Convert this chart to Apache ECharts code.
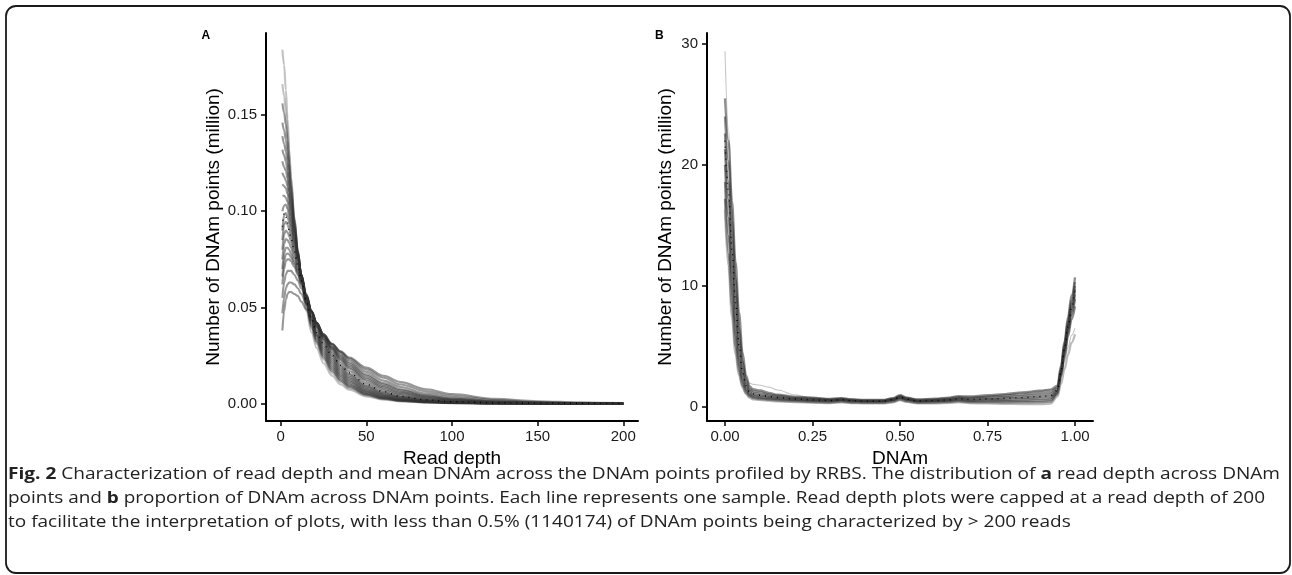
<!DOCTYPE html>
<html><head><meta charset="utf-8">
<script src="https://cdn.jsdelivr.net/npm/echarts@6/dist/echarts.min.js"></script>
<style>html,body{margin:0;padding:0;background:#fff}#c{width:1292px;height:575px}</style>
</head><body><div id="c"></div>
<script>
// ---------- Panel A: read depth distribution (million DNAm points) ----------
const depthX = [1,2,3,4,5,6,8,10,12,15,18,21,25,30,35,40,50,60,70,85,100,125,150,175,200];
const depthS01 = [0.184,0.176,0.163,0.148,0.132,0.118,0.096,0.078,0.064,0.048,0.037,0.029,0.021,0.0145,0.0100,0.0072,0.0038,0.0021,0.0012,0.0006,0.0003,0.0001,0.00005,0,0];
const depthS02 = [0.166,0.160,0.152,0.142,0.129,0.117,0.097,0.080,0.066,0.050,0.039,0.031,0.023,0.0160,0.0112,0.0080,0.0043,0.0024,0.0014,0.0007,0.0003,0.0001,0.00005,0,0];
const depthS03 = [0.146,0.142,0.137,0.131,0.121,0.111,0.094,0.079,0.067,0.052,0.041,0.033,0.025,0.0180,0.0128,0.0093,0.0050,0.0028,0.0016,0.0008,0.0004,0.00015,0.00005,0,0];
const depthS04 = [0.132,0.129,0.126,0.121,0.113,0.105,0.091,0.078,0.067,0.053,0.043,0.035,0.027,0.0200,0.0145,0.0107,0.0060,0.0034,0.0020,0.0010,0.0005,0.0002,0.0001,0,0];
const depthS05 = [0.120,0.118,0.116,0.113,0.107,0.100,0.088,0.077,0.067,0.054,0.044,0.036,0.029,0.0220,0.0162,0.0122,0.0070,0.0041,0.0024,0.0012,0.0006,0.0002,0.0001,0,0];
const depthS06 = [0.108,0.108,0.107,0.105,0.100,0.095,0.085,0.076,0.067,0.056,0.046,0.038,0.031,0.0240,0.0180,0.0138,0.0082,0.0049,0.0030,0.0015,0.0008,0.0003,0.0001,0.00005,0];
const depthS07 = [0.090,0.098,0.099,0.097,0.094,0.090,0.082,0.075,0.067,0.057,0.048,0.040,0.033,0.0260,0.0200,0.0155,0.0095,0.0059,0.0037,0.0019,0.0010,0.0004,0.0002,0.0001,0];
const depthS08 = [0.080,0.088,0.090,0.089,0.087,0.084,0.078,0.072,0.065,0.056,0.048,0.041,0.034,0.0280,0.0225,0.0182,0.0118,0.0077,0.0050,0.0027,0.0015,0.0006,0.0003,0.0001,0.00005];
const depthS09 = [0.070,0.078,0.081,0.081,0.080,0.078,0.074,0.069,0.063,0.055,0.048,0.042,0.035,0.0290,0.0240,0.0198,0.0135,0.0092,0.0062,0.0035,0.0020,0.0008,0.0004,0.0002,0.0001];
const depthS10 = [0.062,0.070,0.074,0.075,0.075,0.074,0.071,0.067,0.062,0.055,0.048,0.042,0.036,0.0300,0.0255,0.0215,0.0152,0.0107,0.0075,0.0044,0.0026,0.0011,0.0005,0.0002,0.0001];
const depthS11 = [0.055,0.063,0.067,0.069,0.069,0.069,0.067,0.064,0.060,0.054,0.048,0.042,0.036,0.0310,0.0265,0.0226,0.0165,0.0120,0.0087,0.0052,0.0032,0.0014,0.0006,0.0003,0.0001];
const depthS12 = [0.047,0.055,0.060,0.062,0.063,0.063,0.062,0.060,0.057,0.052,0.047,0.042,0.036,0.0310,0.0270,0.0235,0.0178,0.0135,0.0100,0.0064,0.0041,0.0019,0.0009,0.0004,0.0002];
const depthS13 = [0.038,0.048,0.054,0.057,0.058,0.058,0.057,0.056,0.053,0.049,0.045,0.040,0.035,0.0310,0.0272,0.0240,0.0188,0.0145,0.0112,0.0075,0.0050,0.0025,0.0013,0.0006,0.0003];
const depthS14 = [0.156,0.151,0.145,0.137,0.125,0.114,0.0955,0.0795,0.0665,0.051,0.040,0.032,0.024,0.0170,0.0120,0.0087,0.0047,0.0026,0.0015,0.00075,0.00035,0.00012,0.00005,0,0];
const depthS15 = [0.139,0.135,0.131,0.126,0.117,0.108,0.0925,0.0785,0.067,0.0525,0.042,0.034,0.026,0.0190,0.0137,0.0100,0.0055,0.0031,0.0018,0.0009,0.00045,0.00017,0.00007,0,0];
const depthS16 = [0.126,0.123,0.121,0.117,0.110,0.1025,0.0895,0.0775,0.067,0.0535,0.0435,0.0355,0.028,0.0210,0.0153,0.0115,0.0065,0.0037,0.0022,0.0011,0.00055,0.0002,0.0001,0,0];
const depthS17 = [0.114,0.113,0.112,0.109,0.1035,0.0975,0.0865,0.0765,0.067,0.055,0.045,0.037,0.030,0.0230,0.0171,0.0130,0.0076,0.0045,0.0027,0.00135,0.0007,0.00025,0.0001,0.00003,0];
const depthS18 = [0.100,0.103,0.1035,0.101,0.097,0.0925,0.0835,0.0755,0.067,0.0565,0.047,0.039,0.032,0.0250,0.0190,0.0147,0.0089,0.0054,0.0034,0.0017,0.0009,0.00035,0.00015,0.00007,0];
const depthS19 = [0.085,0.093,0.0945,0.093,0.0905,0.087,0.080,0.0735,0.066,0.0565,0.048,0.0405,0.0335,0.0270,0.0213,0.0169,0.0107,0.0068,0.0044,0.0023,0.00125,0.0005,0.00025,0.0001,0.00003];
const depthS20 = [0.075,0.083,0.0855,0.085,0.0835,0.081,0.076,0.0705,0.064,0.0555,0.048,0.0415,0.0345,0.0285,0.0233,0.0190,0.0127,0.0085,0.0056,0.0031,0.00175,0.0007,0.00035,0.00015,0.00007];
const depthS21 = [0.066,0.074,0.0775,0.078,0.0775,0.076,0.0725,0.068,0.0625,0.055,0.048,0.042,0.0355,0.0295,0.0248,0.0207,0.0144,0.0100,0.0069,0.0040,0.0023,0.00095,0.00045,0.0002,0.0001];
const depthDotted = [0.092,0.099,0.097,0.094,0.090,0.086,0.079,0.072,0.064,0.053,0.044,0.037,0.031,0.0250,0.0200,0.0160,0.0100,0.0062,0.0038,0.0020,0.0010,0.0005,0.0003,0.0002,0.0001];
const depthTicks = [0,50,100,150,200];
const depthCountTicks = [0,0.05,0.10,0.15];

// ---------- Panel B: DNAm distribution (million DNAm points) ----------
const methX = [0,0.01,0.02,0.03,0.04,0.05,0.06,0.07,0.08,0.10,0.125,0.15,0.20,0.25,0.30,0.333,0.36,0.40,0.45,0.48,0.50,0.52,0.55,0.60,0.64,0.667,0.70,0.75,0.80,0.85,0.90,0.93,0.95,0.96,0.97,0.98,0.99,1.00];
const methOut = [29.4,23.0,16.5,10.8,6.6,3.8,2.4,1.95,1.85,1.78,1.62,1.38,0.98,0.72,0.56,0.60,0.53,0.48,0.48,0.60,0.80,0.63,0.48,0.53,0.60,0.72,0.72,0.85,1.00,1.15,1.30,1.40,1.55,2.6,3.8,4.9,5.9,6.5];
const methS02 = [25.5,22.0,17.0,12.0,7.8,4.5,2.6,1.7,1.45,1.35,1.15,1.0,0.82,0.75,0.65,0.72,0.62,0.56,0.56,0.72,0.95,0.75,0.60,0.66,0.75,0.88,0.85,0.95,1.05,1.18,1.32,1.42,1.75,3.4,5.4,7.4,9.2,10.7];
const methS03 = [24.0,20.3,15.4,10.6,6.6,3.8,2.2,1.5,1.3,1.2,1.03,0.92,0.76,0.68,0.60,0.67,0.58,0.52,0.52,0.67,0.90,0.70,0.56,0.61,0.69,0.80,0.76,0.84,0.92,1.02,1.14,1.22,1.6,3.2,5.2,7.1,8.8,10.3];
const methS04 = [22.6,18.6,13.8,9.3,5.6,3.2,1.9,1.35,1.15,1.05,0.92,0.83,0.69,0.62,0.55,0.62,0.53,0.48,0.48,0.62,0.84,0.65,0.51,0.55,0.62,0.72,0.67,0.73,0.80,0.88,0.98,1.05,1.45,3.0,5.0,6.8,8.5,10.0];
const methS05 = [21.3,17.1,12.3,8.0,4.7,2.7,1.65,1.2,1.0,0.92,0.82,0.74,0.63,0.56,0.50,0.57,0.49,0.44,0.44,0.57,0.78,0.60,0.46,0.50,0.56,0.65,0.59,0.63,0.68,0.74,0.82,0.88,1.32,2.9,4.8,6.6,8.2,9.7];
const methS06 = [20.0,15.6,10.9,6.9,4.0,2.3,1.45,1.05,0.9,0.82,0.73,0.66,0.56,0.50,0.45,0.52,0.44,0.40,0.40,0.52,0.72,0.55,0.41,0.44,0.50,0.58,0.51,0.54,0.57,0.61,0.67,0.72,1.22,2.8,4.6,6.4,7.9,9.3];
const methS07 = [18.6,14.1,9.6,5.9,3.4,2.0,1.3,0.95,0.8,0.72,0.64,0.58,0.50,0.44,0.40,0.47,0.39,0.36,0.36,0.47,0.66,0.50,0.37,0.39,0.44,0.51,0.44,0.45,0.46,0.48,0.52,0.57,1.12,2.6,4.4,6.1,7.6,8.9];
const methS08 = [17.2,12.6,8.3,5.0,2.9,1.75,1.15,0.85,0.72,0.64,0.57,0.51,0.44,0.39,0.35,0.42,0.35,0.32,0.32,0.42,0.60,0.45,0.32,0.34,0.38,0.45,0.37,0.36,0.35,0.36,0.38,0.42,1.02,2.5,4.1,5.8,7.2,8.3];
const methS09 = [16.3,11.6,7.4,4.4,2.6,1.6,1.05,0.75,0.62,0.56,0.50,0.45,0.38,0.34,0.31,0.37,0.31,0.28,0.28,0.37,0.54,0.40,0.28,0.29,0.32,0.38,0.30,0.27,0.24,0.22,0.22,0.26,0.85,1.9,3.1,4.3,5.3,6.0];
const methDotted = [22.0,17.8,13.0,8.6,5.1,2.9,1.75,1.25,1.05,0.95,0.84,0.76,0.64,0.57,0.51,0.58,0.50,0.45,0.45,0.58,0.80,0.62,0.47,0.51,0.57,0.66,0.60,0.64,0.69,0.75,0.84,0.90,1.35,2.9,4.8,6.6,8.2,9.6];
const methTicks = [0,0.25,0.5,0.75,1];
const methCountTicks = [0,10,20,30];

// ---------- Caption ----------
const captionLines = [
  '{b|Fig. 2} Characterization of read depth and mean DNAm across the DNAm points profiled by RRBS. The distribution of {b|a} read depth across DNAm',
  'points and {b|b} proportion of DNAm across DNAm points. Each line represents one sample. Read depth plots were capped at a read depth of 200',
  'to facilitate the interpretation of plots, with less than 0.5% (1140174) of DNAm points being characterized by > 200 reads'
];

const FONT = 'Liberation Sans, Arial, sans-serif';
const CAP_FONT = 'Open Sans';
const CAP_SIZE = 16;

function pairs(xs, ys){ return xs.map((x,i)=>[x, ys[i]]); }
function lineSeries(xi, xs, ys, color, width, dotted){
  return {
    type:'line', xAxisIndex:xi, yAxisIndex:xi, data:pairs(xs,ys),
    showSymbol:false, symbol:'none', smooth:0.35, smoothMonotone:'x', silent:true, animation:false, clip:true,
    lineStyle:{color:color, width:width, type: dotted ? [1,5] : 'solid'}
  };
}

const series = [];
const depthSamples = [depthS01,depthS02,depthS14,depthS03,depthS15,depthS04,depthS16,depthS05,depthS17,depthS06,depthS18,depthS07,depthS19,depthS08,depthS20,depthS09,depthS21,depthS10,depthS11,depthS12,depthS13];
depthSamples.forEach((s,i)=>{
  const light = (i < 2);
  series.push(lineSeries(0, depthX, s, light ? 'rgba(120,120,120,0.45)' : 'rgba(50,50,50,0.5)', 2.1, false));
});
series.push(lineSeries(0, depthX, depthDotted, '#000', 1.4, true));

const methSamples = [methS02,methS03,methS04,methS05,methS06,methS07,methS08,methS09];
series.push(lineSeries(1, methX, methOut, 'rgba(150,150,150,0.55)', 1.1, false));
methSamples.forEach((s,i)=>{
  const light = (i===7);
  series.push(lineSeries(1, methX, s, light ? 'rgba(120,120,120,0.5)' : 'rgba(50,50,50,0.55)', 2.3, false));
});
series.push(lineSeries(1, methX, methDotted, '#000', 1.4, true));

function valueAxis(grid, min, max, ticks, fmt, name, isY, gap){
  return {
    type:'value', gridIndex:grid, min:min, max:max, scale:false,
    name:name, nameLocation:'middle', nameGap:gap,
    nameTextStyle:{fontSize:19, color:'#000', fontFamily:FONT},
    axisLine:{show:true, onZero:false, lineStyle:{color:'#000', width:2}},
    axisTick:{show:true, length:5, customValues:ticks, lineStyle:{color:'#000', width:1.5}},
    axisLabel:{show:true, customValues:ticks, formatter:fmt, fontSize:15, color:'#1a1a1a', fontFamily:FONT, margin: isY ? 9 : 8},
    splitLine:{show:false}
  };
}

function measureRich(str){
  const ctx = document.createElement('canvas').getContext('2d');
  let w = 0, last = 0, m;
  const re = /\{b\|([^}]*)\}/g;
  while ((m = re.exec(str))) {
    ctx.font = CAP_SIZE + 'px ' + CAP_FONT;
    w += ctx.measureText(str.slice(last, m.index)).width;
    ctx.font = 'bold ' + CAP_SIZE + 'px ' + CAP_FONT;
    w += ctx.measureText(m[1]).width;
    last = re.lastIndex;
  }
  ctx.font = CAP_SIZE + 'px ' + CAP_FONT;
  w += ctx.measureText(str.slice(last)).width;
  return w;
}
const capTargets = [1272, 1257];
const capScales = capTargets.map((t,i)=> t / measureRich(captionLines[i]));
const capScale3 = (capScales[0] + capScales[1]) / 2;
const capY = [474, 498, 522];

const graphic = [
  {type:'rect', shape:{x:6, y:6, width:1284, height:567, r:10}, style:{fill:'none', stroke:'#1a1a1a', lineWidth:1.8}, silent:true},
  {type:'text', x:201.5, y:30, style:{text:'A', fontSize:12, fontWeight:'bold', fontFamily:FONT, fill:'#000', verticalAlign:'top'}},
  {type:'text', x:655, y:30, style:{text:'B', fontSize:12, fontWeight:'bold', fontFamily:FONT, fill:'#000', verticalAlign:'top'}}
];
captionLines.forEach((t,i)=>{
  graphic.push({
    type:'text', x:8, y:capY[i], scaleX: i < 2 ? capScales[i] : capScale3, originX:0, originY:0,
    style:{text:t, x:0, y:0, fontSize:CAP_SIZE, fontFamily:CAP_FONT, fill:'#222', verticalAlign:'middle', align:'left',
      rich:{b:{fontWeight:'bold', fontSize:CAP_SIZE, fontFamily:CAP_FONT, fill:'#222'}}}
  });
});

const chart = echarts.init(document.getElementById('c'), null, {renderer:'canvas'});
chart.setOption({
  animation:false,
  backgroundColor:'#fff',
  grid:[
    {left:266, top:33, width:372, height:388},
    {left:707, top:33, width:386, height:388}
  ],
  xAxis:[
    valueAxis(0, -8.58, 208.6, depthTicks, v=>String(v), 'Read depth', false, 26),
    valueAxis(1, -0.0514, 1.0514, methTicks, v=>v.toFixed(2), 'DNAm', false, 26)
  ],
  yAxis:[
    valueAxis(0, -0.009, 0.1926, depthCountTicks, v=>v.toFixed(2), 'Number of DNAm points (million)', true, 43),
    valueAxis(1, -1.18, 30.91, methCountTicks, v=>String(v), 'Number of DNAm points (million)', true, 32)
  ],
  series:series,
  graphic:graphic
});
</script>
</body></html>
